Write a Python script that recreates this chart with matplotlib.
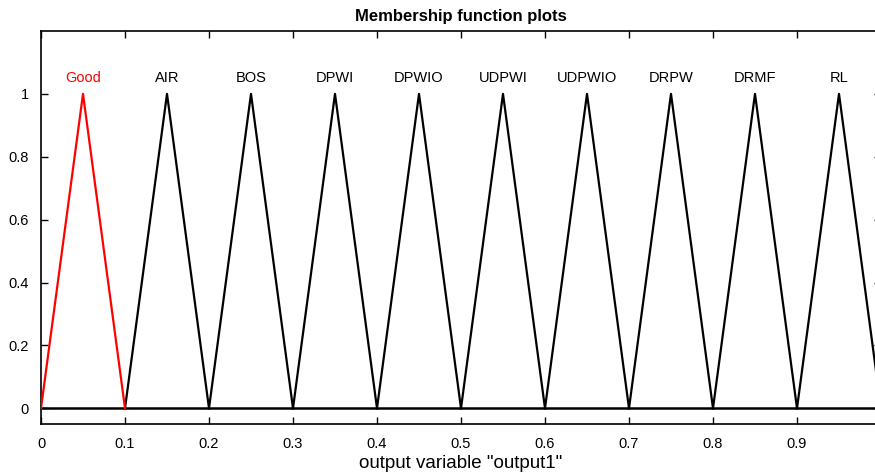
import matplotlib
matplotlib.use("Agg")
import matplotlib.pyplot as plt

plt.rcParams['font.family'] = ['Liberation Sans', 'DejaVu Sans']

# Membership function names and triangle parameters [a, b, c]
mf_names = ["Good", "AIR", "BOS", "DPWI", "DPWIO", "UDPWI", "UDPWIO", "DRPW", "DRMF", "RL"]
mf_params = [
    [0.0, 0.05, 0.1],
    [0.1, 0.15, 0.2],
    [0.2, 0.25, 0.3],
    [0.3, 0.35, 0.4],
    [0.4, 0.45, 0.5],
    [0.5, 0.55, 0.6],
    [0.6, 0.65, 0.7],
    [0.7, 0.75, 0.8],
    [0.8, 0.85, 0.9],
    [0.9, 0.95, 1.0],
]
highlight = "Good"

x_ticks = [0, 0.1, 0.2, 0.3, 0.4, 0.5, 0.6, 0.7, 0.8, 0.9, 1]
y_ticks = [0, 0.2, 0.4, 0.6, 0.8, 1]

fig = plt.figure(figsize=(8.75, 4.75), dpi=100)
# right edge of the axes runs past the image, as in the reference crop
ax = fig.add_axes([41 / 875, 1 - 424 / 475, 840 / 875, 393 / 475])

# baseline
ax.plot([0, 1], [0, 0], color="black", lw=1.8, zorder=1)

# draw black ones first, highlighted on top
order = sorted(range(len(mf_names)), key=lambda i: mf_names[i] == highlight)
for i in order:
    name = mf_names[i]
    a, b, c = mf_params[i]
    col = "red" if name == highlight else "black"
    ax.plot([a, b, c], [0, 1, 0], color=col, lw=1.6, zorder=3 if col == "red" else 2)
    ax.text(b, 1.05, name, color=col, ha="center", va="center", fontsize=10.5)

ax.set_xlim(0, 1)
ax.set_ylim(-0.05, 1.2)
ax.set_xticks(x_ticks)
ax.set_xticklabels([f"{t:g}" for t in x_ticks])
ax.set_yticks(y_ticks)
ax.set_yticklabels([f"{t:g}" for t in y_ticks])
ax.tick_params(direction="in", top=True, right=True, length=5, width=1,
               labelsize=10.5, pad=9)
for s in ax.spines.values():
    s.set_linewidth(1.2)

ax.set_xlabel('output variable "output1"', fontsize=13.5, labelpad=3)
ax.set_title("Membership function plots", fontsize=12, fontweight="bold", pad=7)

fig.savefig("out.png", dpi=100)
